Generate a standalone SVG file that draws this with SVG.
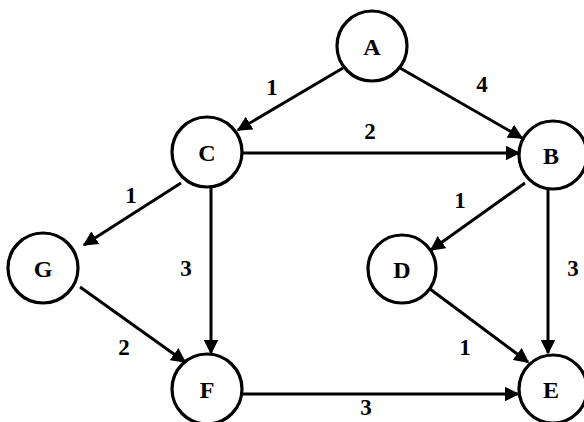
<svg xmlns="http://www.w3.org/2000/svg" width="584" height="422" viewBox="0 0 584 422">
<style>
.n circle{fill:#fff;stroke:#000;stroke-width:3.2}
.n text{font-family:"Liberation Serif",serif;font-weight:bold;font-size:24px;text-anchor:middle;fill:#000}
.e line{stroke:#000;stroke-width:3;marker-end:url(#ah)}
.w{font-family:"Liberation Serif",serif;font-weight:bold;font-size:23px;text-anchor:middle;fill:#000}
</style>
<defs>
<marker id="ah" viewBox="0 0 10 10" refX="9" refY="5" markerWidth="5" markerHeight="5" markerUnits="strokeWidth" orient="auto">
<path d="M0,0 L10,5 L0,10 z" fill="#000"/>
</marker>
</defs>
<rect width="584" height="422" fill="#fff"/>
<g id="edges" class="e">
<line x1="343" y1="68" x2="238" y2="130"/>
<line x1="400" y1="68" x2="522" y2="138"/>
<line x1="243" y1="153" x2="519" y2="153"/>
<line x1="181" y1="183" x2="84" y2="245"/>
<line x1="211" y1="187" x2="211" y2="353"/>
<line x1="525" y1="183" x2="431" y2="250"/>
<line x1="548" y1="189" x2="548" y2="353"/>
<line x1="80" y1="287" x2="185" y2="362"/>
<line x1="430" y1="289" x2="528" y2="362"/>
<line x1="243" y1="394" x2="518" y2="394"/>
</g>
<g id="weights">
<text class="w" x="272" y="95">1</text>
<text class="w" x="482" y="92">4</text>
<text class="w" x="370" y="139">2</text>
<text class="w" x="131" y="203">1</text>
<text class="w" x="186" y="276">3</text>
<text class="w" x="460" y="208">1</text>
<text class="w" x="573" y="276">3</text>
<text class="w" x="124" y="355">2</text>
<text class="w" x="465" y="355">1</text>
<text class="w" x="366" y="415">3</text>
</g>
<g id="A" class="n"><circle cx="372" cy="46" r="35"/><text x="372" y="55">A</text></g>
<g id="C" class="n"><circle cx="207" cy="152" r="35"/><text x="207" y="161">C</text></g>
<g id="B" class="n"><circle cx="553" cy="155" r="34"/><text x="551" y="164">B</text></g>
<g id="G" class="n"><circle cx="43" cy="268" r="35"/><text x="43" y="277">G</text></g>
<g id="D" class="n"><circle cx="402" cy="269" r="34"/><text x="402" y="278">D</text></g>
<g id="F" class="n"><circle cx="207" cy="389" r="35"/><text x="207" y="398">F</text></g>
<g id="E" class="n"><circle cx="553" cy="389" r="34"/><text x="551" y="398">E</text></g>
</svg>
